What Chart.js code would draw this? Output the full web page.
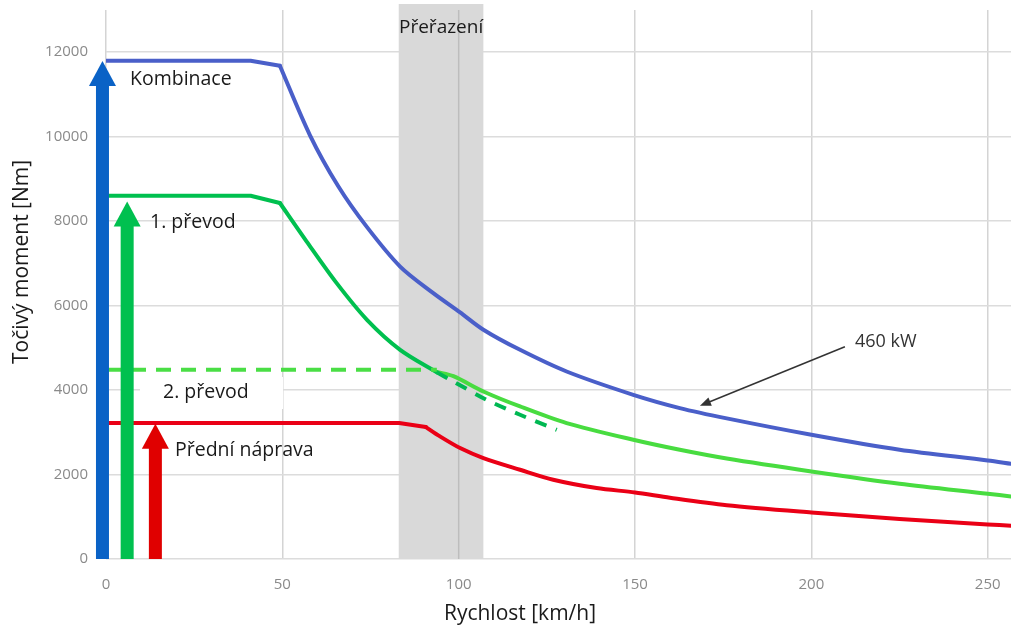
<!DOCTYPE html>
<html>
<head>
<meta charset="utf-8">
<script src="https://cdn.jsdelivr.net/npm/chart.js@4/dist/chart.umd.min.js"></script>
<style>
  body { margin: 0; background: #fff; }
  #wrap { width: 1011px; height: 630px; }
</style>
</head>
<body>
<div id="wrap"><canvas id="torqueChart" width="1011" height="630"></canvas></div>
<script>
// rychlost [km/h] a točivý moment [Nm]
const kombX = [0, 41, 49.3, 57.8, 65.9, 73.9, 83.4, 92.8, 100.4, 107, 117.4, 130.6, 149.5, 162.7, 176, 200, 225, 250, 256.6];
const kombY = [11800, 11800, 11680, 10040, 8820, 7870, 6925, 6296, 5840, 5430, 4953, 4440, 3888, 3574, 3330, 2942, 2587, 2334, 2256];

const prevod1X = [0, 41, 49.3, 56.9, 65.4, 74, 83.4, 93.8];
const prevod1Y = [8600, 8600, 8430, 7517, 6532, 5664, 4954, 4420];

const prevod1ExtX = [93.8, 98.5, 107.9, 117.4, 127.8];
const prevod1ExtY = [4420, 4204, 3770, 3415, 3060];

const prevod2LowX = [0, 93.8];
const prevod2LowY = [4480, 4480];

const prevod2X = [93.8, 98.5, 107, 117.4, 130.6, 149.5, 162.7, 176, 200, 225, 250, 256.6];
const prevod2Y = [4430, 4330, 3967, 3612, 3219, 2824, 2587, 2380, 2074, 1782, 1546, 1482];

const napravaX = [0, 83.1, 90.7, 94.7, 100.4, 107, 117.4, 126.8, 139.1, 150, 159.9, 176, 200, 225, 250, 256.6];
const napravaY = [3220, 3220, 3124, 2903, 2627, 2390, 2113, 1877, 1680, 1576, 1450, 1275, 1103, 946, 819, 788];

// index bodu, kde končí plochá část křivky
const kombKnee = 2, prevod1Knee = 2, napravaKnee = 2;

const shiftBand = [83, 107];          // oblast přeřazení
const arrowX = [-1, 6, 14];           // svislé šipky
const arrowTop = [11790, 8465, 3200];
const arrowColors = ['#0a62c6', '#00c04f', '#e00000'];

const xTicks = [0, 50, 100, 150, 200, 250];
const yTicks = [0, 2000, 4000, 6000, 8000, 10000, 12000];

const FONT = "'Open Sans', 'Noto Sans', sans-serif";
const pts = (xs, ys) => xs.map((x, i) => ({ x: x, y: ys[i] }));

function line(data, color, dash, tension) {
    return {
        data: data, borderColor: color, borderWidth: 4, pointRadius: 0,
        borderDash: dash || [], tension: tension || 0, borderJoinStyle: 'round',
        borderCapStyle: dash ? 'butt' : 'round', fill: false
    };
}

// plochá část rovně, zbytek vyhlazeně
function curve(xs, ys, knee, color) {
    const p = pts(xs, ys);
    return [line(p.slice(0, knee + 1), color, null, 0), line(p.slice(knee), color, null, 0.3)];
}

function drawArrow(ctx, cx, yTop, yBot, color) {
    const shaft = 13, headW = 27, headH = 25;
    ctx.fillStyle = color;
    ctx.fillRect(cx - shaft / 2, yTop + headH - 1, shaft, yBot - yTop - headH + 1);
    ctx.beginPath();
    ctx.moveTo(cx, yTop);
    ctx.lineTo(cx + headW / 2, yTop + headH);
    ctx.lineTo(cx - headW / 2, yTop + headH);
    ctx.closePath();
    ctx.fill();
}

const overlay = {
    id: 'overlay',
    beforeDatasetsDraw(chart) {
        const { ctx, chartArea, scales: { x, y } } = chart;
        const x0 = x.getPixelForValue(shiftBand[0]), x1 = x.getPixelForValue(shiftBand[1]);
        ctx.save();
        ctx.fillStyle = '#d9d9d9';
        ctx.fillRect(x0, chartArea.top - 6, x1 - x0, chartArea.bottom - chartArea.top + 6);
        const g = x.getPixelForValue(100);
        ctx.strokeStyle = '#bdbdbd';
        ctx.lineWidth = 1.5;
        ctx.beginPath(); ctx.moveTo(g, chartArea.top); ctx.lineTo(g, chartArea.bottom); ctx.stroke();
        // bílé pozadí popisku 2. převod
        ctx.fillStyle = '#ffffff';
        ctx.fillRect(140, 377, 143, 32);
        ctx.restore();
    },
    afterDatasetsDraw(chart) {
        const { ctx, scales: { x, y } } = chart;
        ctx.save();
        arrowX.forEach((v, i) => {
            drawArrow(ctx, x.getPixelForValue(v), y.getPixelForValue(arrowTop[i]), y.getPixelForValue(0), arrowColors[i]);
        });

        ctx.fillStyle = '#1a1a1a';
        ctx.textBaseline = 'middle';
        ctx.textAlign = 'left';
        ctx.font = '19.5px ' + FONT;
        ctx.fillText('Kombinace', 130, 79);
        ctx.fillText('1. převod', 150, 222);
        ctx.fillText('2. převod', 163, 392);
        ctx.fillText('Přední náprava', 175, 450);
        ctx.font = '19px ' + FONT;
        ctx.fillText('Přeřazení', 399, 28);

        // 460 kW
        ctx.fillStyle = '#333333';
        ctx.font = '18px ' + FONT;
        ctx.fillText('460 kW', 855, 342);
        const tx = x.getPixelForValue(168.4), ty = y.getPixelForValue(3628);
        const sx = x.getPixelForValue(209.5), sy = y.getPixelForValue(5025);
        const ang = Math.atan2(ty - sy, tx - sx);
        ctx.strokeStyle = '#333333';
        ctx.lineWidth = 1.5;
        ctx.beginPath(); ctx.moveTo(sx, sy); ctx.lineTo(tx - 8 * Math.cos(ang), ty - 8 * Math.sin(ang)); ctx.stroke();
        ctx.beginPath();
        ctx.moveTo(tx, ty);
        ctx.lineTo(tx - 11 * Math.cos(ang) + 4.5 * Math.sin(ang), ty - 11 * Math.sin(ang) - 4.5 * Math.cos(ang));
        ctx.lineTo(tx - 11 * Math.cos(ang) - 4.5 * Math.sin(ang), ty - 11 * Math.sin(ang) + 4.5 * Math.cos(ang));
        ctx.closePath(); ctx.fill();

        // názvy os
        ctx.fillStyle = '#1a1a1a';
        ctx.font = '21px ' + FONT;
        ctx.textAlign = 'center';
        ctx.fillText('Rychlost [km/h]', 520, 614);
        ctx.translate(22, 262);
        ctx.rotate(-Math.PI / 2);
        ctx.fillText('Točivý moment [Nm]', 0, 0);
        ctx.restore();
    }
};

new Chart(document.getElementById('torqueChart'), {
    type: 'line',
    data: {
        datasets: [
            line(pts(prevod2LowX, prevod2LowY), '#4ade45', [15, 10]),
            ...curve(prevod1X, prevod1Y, prevod1Knee, '#00c04f'),
            line(pts(prevod1ExtX, prevod1ExtY), '#00b852', [12, 10], 0.3),
            line(pts(prevod2X, prevod2Y), '#48dc40', null, 0.3),
            ...curve(napravaX, napravaY, napravaKnee, '#ea0016'),
            ...curve(kombX, kombY, kombKnee, '#4a5fc9')
        ]
    },
    options: {
        responsive: false,
        animation: false,
        layout: { padding: { top: 10, right: 0, left: 0, bottom: 0 } },
        plugins: { legend: { display: false }, tooltip: { enabled: false } },
        scales: {
            x: {
                type: 'linear', min: 0, max: 256.6,
                afterBuildTicks: (s) => { s.ticks = xTicks.map(v => ({ value: v })); },
                afterFit: (s) => { s.height = 71; s.paddingLeft = 0; s.paddingRight = 0; },
                grid: { color: '#d4d4d4', lineWidth: 1.5, drawTicks: false },
                border: { display: false },
                ticks: { color: '#8a8a8a', font: { family: FONT, size: 15 }, padding: 17, callback: (v) => String(v) }
            },
            y: {
                min: 0, max: 13000,
                afterBuildTicks: (s) => { s.ticks = yTicks.map(v => ({ value: v })); },
                afterFit: (s) => { s.width = 106; s.paddingTop = 0; s.paddingBottom = 0; },
                grid: { color: '#dcdcdc', lineWidth: 1.5, drawTicks: false },
                border: { display: false },
                ticks: { color: '#8a8a8a', font: { family: FONT, size: 15 }, padding: 18, callback: (v) => String(v) }
            }
        }
    },
    plugins: [overlay]
});
</script>
</body>
</html>
